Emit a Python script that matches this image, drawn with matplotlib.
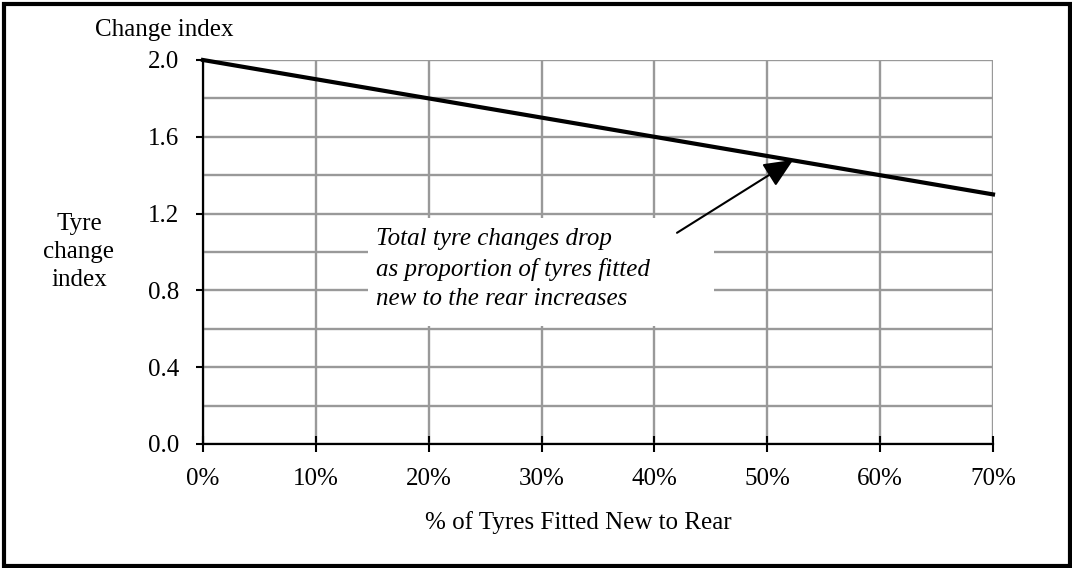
import matplotlib
matplotlib.use("Agg")
import matplotlib.pyplot as plt
import matplotlib.patches as patches
from matplotlib.ticker import MultipleLocator, FuncFormatter

# Udział opon montowanych jako nowe na tył [%] i wskaźnik wymian
udzial_nowych = [0, 10, 20, 30, 40, 50, 60, 70]
wskaznik = [2.0, 1.9, 1.8, 1.7, 1.6, 1.5, 1.4, 1.3]

opis = "Total tyre changes drop\nas proportion of tyres fitted\nnew to the rear increases"
punkt_strzalki = (52.3, 1.48)
poczatek_strzalki = (42, 1.10)

plt.rcParams["font.family"] = ["Liberation Serif", "DejaVu Serif"]

W, H = 1072, 568
fig = plt.figure(figsize=(W / 100, H / 100), dpi=100)
ax = fig.add_axes([203 / W, 124 / H, 790 / W, 384 / H])

szary = "#999999"

# Siatka: pionowo co 10%, poziomo co 0.2
ax.set_xlim(0, 70)
ax.set_ylim(0, 2.0)
ax.xaxis.set_major_locator(MultipleLocator(10))
ax.yaxis.set_major_locator(MultipleLocator(0.4))
ax.yaxis.set_minor_locator(MultipleLocator(0.2))
ax.xaxis.set_major_formatter(FuncFormatter(lambda v, p: f"{v:.0f}%"))
ax.yaxis.set_major_formatter(FuncFormatter(lambda v, p: f"{v:.1f}"))
ax.grid(True, which="major", axis="x", color=szary, lw=1.7)
ax.grid(True, which="both", axis="y", color=szary, lw=1.7)
ax.set_axisbelow(True)

for s in ["top", "right"]:
    ax.spines[s].set_visible(False)
for s in ["left", "bottom"]:
    ax.spines[s].set_linewidth(1.6)
    ax.spines[s].set_zorder(5)

ax.tick_params(axis="y", which="major", direction="out", length=5, width=1.5,
               pad=12, labelsize=18)
ax.tick_params(axis="y", which="minor", length=0)
ax.tick_params(axis="x", which="major", direction="inout", length=11, width=1.5,
               pad=12, labelsize=18)

# Białe pole pod opisem
ax.add_patch(patches.Rectangle((14.6, 0.615), 30.7, 0.56, facecolor="white",
                               edgecolor="none", zorder=2))

ax.plot(udzial_nowych, wskaznik, color="black", lw=3, zorder=4, clip_on=False)

ax.text(15.3, 0.91, opis, style="italic", fontsize=18, ha="left", va="center",
        linespacing=1.42, zorder=3)
ax.annotate("", xy=punkt_strzalki, xytext=poczatek_strzalki,
            arrowprops=dict(arrowstyle="-|>,head_length=0.45,head_width=0.2",
                            mutation_scale=40, lw=1.5, color="black",
                            shrinkA=0, shrinkB=0), zorder=4)

fig.text(95 / W, 1 - 30 / H, "Change index", fontsize=18, ha="left", va="center")
fig.text(79 / W, 1 - 252 / H, "Tyre\nchange\nindex", fontsize=18, ha="center",
         va="center", linespacing=1.38)
fig.text(578 / W, 1 - 523 / H, "% of Tyres Fitted New to Rear", fontsize=18,
         ha="center", va="center")

# Ramka wokół całego rysunku
fig.add_artist(patches.Rectangle((4 / W, 2 / H), 1 - 6 / W, 1 - 6 / H, fill=False,
                                 edgecolor="black", lw=3.0,
                                 transform=fig.transFigure))

fig.savefig("out.png", dpi=100)
